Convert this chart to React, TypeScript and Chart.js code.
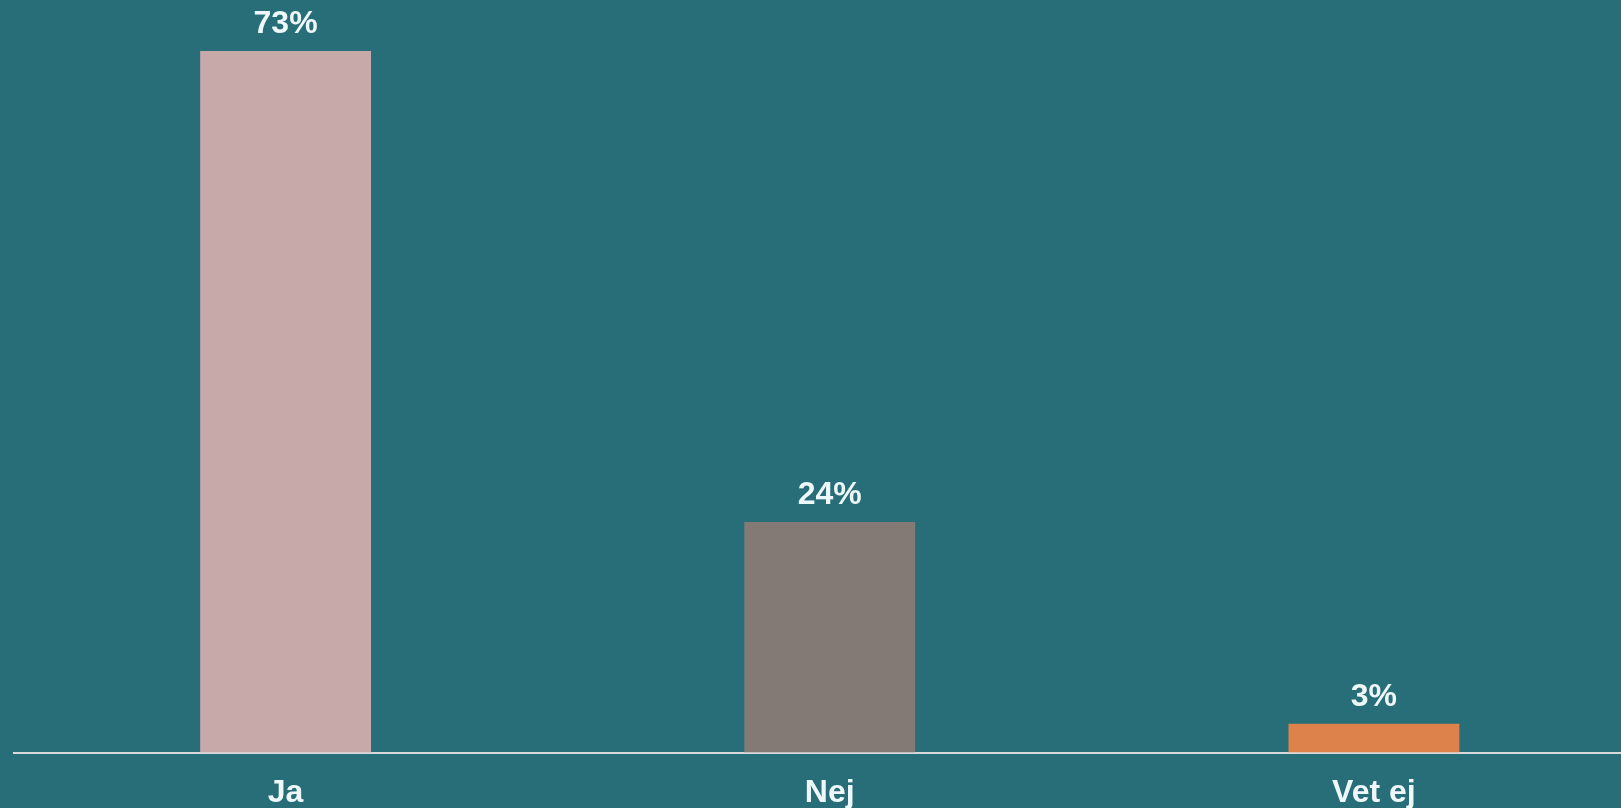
import React, { useEffect, useRef } from "react";
import { Chart, registerables } from "chart.js";

Chart.register(...registerables);

const categories = ["Ja", "Nej", "Vet ej"];
const values = [73, 24, 3];
const valueLabels = ["73%", "24%", "3%"];
const barColors = ["#c8a9aa", "#847a75", "#dc824a"];

const BG = "#286e78";
const TEXT = "#eef8fa";
const FONT = "'Liberation Sans', Arial, sans-serif";

const labelPlugin = {
  id: "valueLabels",
  afterDatasetsDraw(chart: any) {
    const ctx = chart.ctx;
    const meta = chart.getDatasetMeta(0);
    ctx.save();
    ctx.fillStyle = TEXT;
    ctx.font = `bold 32px ${FONT}`;
    ctx.textAlign = "center";
    ctx.textBaseline = "alphabetic";
    meta.data.forEach((bar: any, i: number) => {
      ctx.fillText(valueLabels[i], bar.x, bar.y - 18);
    });
    ctx.restore();
  },
};

export default function App() {
  const ref = useRef<HTMLCanvasElement>(null);
  useEffect(() => {
    const chart = new Chart(ref.current!, {
      type: "bar",
      data: {
        labels: categories,
        datasets: [
          {
            data: values,
            backgroundColor: barColors,
            borderWidth: 0,
            categoryPercentage: 1,
            barPercentage: 0.314,
          },
        ],
      },
      options: {
        animation: false,
        responsive: false,
        maintainAspectRatio: false,
        layout: { padding: { left: 13.5, top: 3, right: 0, bottom: 0 } },
        plugins: { legend: { display: false }, tooltip: { enabled: false } },
        scales: {
          x: {
            grid: { display: false },
            border: { display: true, color: "#d9d9d9", width: 2 },
            ticks: {
              color: TEXT,
              font: { family: FONT, size: 32, weight: "bold" },
              padding: 13.5,
              maxRotation: 0,
            },
          },
          y: {
            display: false,
            min: 0,
            max: 78,
          },
        },
      },
      plugins: [labelPlugin],
    });
    return () => chart.destroy();
  }, []);
  return (
    <div
      style={{
        position: "fixed",
        left: 0,
        top: 0,
        width: 1646,
        height: 826,
        background: BG,
      }}
    >
      <canvas ref={ref} width={1646} height={826} style={{ display: "block" }} />
    </div>
  );
}
